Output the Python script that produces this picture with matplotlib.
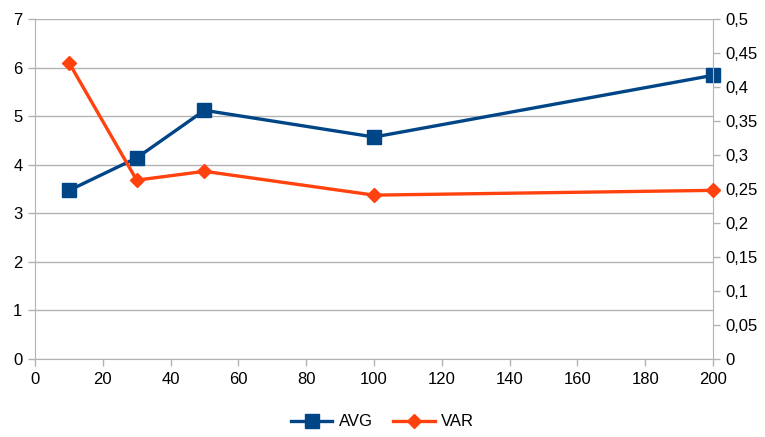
import matplotlib
matplotlib.use("Agg")
import matplotlib.pyplot as plt
from matplotlib.ticker import FuncFormatter, MultipleLocator

plt.rcParams['font.family'] = ['Liberation Sans', 'DejaVu Sans']
plt.rcParams['font.size'] = 12

# data
x_vals = [10, 30, 50, 100, 200]
avg_vals = [3.47, 4.14, 5.12, 4.57, 5.84]
var_vals = [0.436, 0.263, 0.276, 0.241, 0.248]

avg_color = '#004586'
var_color = '#ff420e'
grid_color = '#b3b3b3'

fig = plt.figure(figsize=(7.65, 4.37), dpi=100)
ax = fig.add_axes([35 / 765, 1 - 359 / 437, (713 - 35) / 765, (359 - 19) / 437])
ax2 = ax.twinx()

l1, = ax.plot(x_vals, avg_vals, color=avg_color, lw=2.4, marker='s', ms=10,
              label='AVG', clip_on=False, zorder=3)
l2, = ax2.plot(x_vals, var_vals, color=var_color, lw=2.4, marker='D', ms=7,
               label='VAR', clip_on=False, zorder=3)

ax.set_xlim(0, 200)
ax.set_ylim(0, 7)
ax2.set_ylim(0, 0.5)
ax.xaxis.set_major_locator(MultipleLocator(20))
ax.yaxis.set_major_locator(MultipleLocator(1))
ax2.yaxis.set_major_locator(MultipleLocator(0.05))

comma = FuncFormatter(lambda v, p: ('%g' % round(v, 3)).replace('.', ','))
ax2.yaxis.set_major_formatter(comma)

ax.grid(axis='y', color=grid_color, lw=1)
ax.set_axisbelow(True)

for a in (ax, ax2):
    for s in a.spines.values():
        s.set_visible(False)
    a.tick_params(length=5, width=1, color=grid_color, labelcolor='black', pad=4)
ax.spines['left'].set_visible(True)
ax.spines['left'].set_color(grid_color)
ax.spines['bottom'].set_visible(True)
ax.spines['bottom'].set_color(grid_color)
ax2.spines['right'].set_visible(True)
ax2.spines['right'].set_color(grid_color)

fig.legend(handles=[l1, l2], loc='center', bbox_to_anchor=(0.5, 1 - 422 / 437),
           ncol=2, frameon=False, handlelength=2.5, columnspacing=1.2,
           handletextpad=0.4)

fig.savefig('out.png', dpi=100)
